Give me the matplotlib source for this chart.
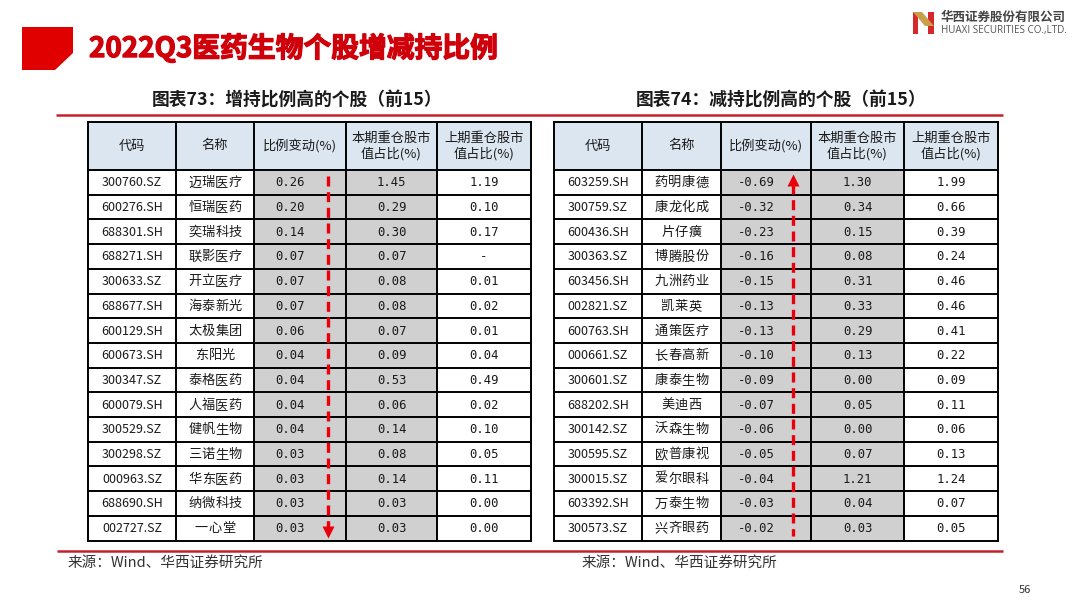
import matplotlib.pyplot as plt
import matplotlib.patheffects as pe
from matplotlib.patches import Polygon, Rectangle

plt.rcParams['font.family'] = ['Noto Sans CJK SC', 'DejaVu Sans']

# 增持比例高的个股（前15）
up_codes = ['300760.SZ', '600276.SH', '688301.SH', '688271.SH', '300633.SZ',
            '688677.SH', '600129.SH', '600673.SH', '300347.SZ', '600079.SH',
            '300529.SZ', '300298.SZ', '000963.SZ', '688690.SH', '002727.SZ']
up_names = ['迈瑞医疗', '恒瑞医药', '奕瑞科技', '联影医疗', '开立医疗',
            '海泰新光', '太极集团', '东阳光', '泰格医药', '人福医药',
            '健帆生物', '三诺生物', '华东医药', '纳微科技', '一心堂']
up_change = ['0.26', '0.20', '0.14', '0.07', '0.07', '0.07', '0.06', '0.04',
             '0.04', '0.04', '0.04', '0.03', '0.03', '0.03', '0.03']
up_now = ['1.45', '0.29', '0.30', '0.07', '0.08', '0.08', '0.07', '0.09',
          '0.53', '0.06', '0.14', '0.08', '0.14', '0.03', '0.03']
up_prev = ['1.19', '0.10', '0.17', '-', '0.01', '0.02', '0.01', '0.04',
           '0.49', '0.02', '0.10', '0.05', '0.11', '0.00', '0.00']

# 减持比例高的个股（前15）
down_codes = ['603259.SH', '300759.SZ', '600436.SH', '300363.SZ', '603456.SH',
              '002821.SZ', '600763.SH', '000661.SZ', '300601.SZ', '688202.SH',
              '300142.SZ', '300595.SZ', '300015.SZ', '603392.SH', '300573.SZ']
down_names = ['药明康德', '康龙化成', '片仔癀', '博腾股份', '九洲药业',
              '凯莱英', '通策医疗', '长春高新', '康泰生物', '美迪西',
              '沃森生物', '欧普康视', '爱尔眼科', '万泰生物', '兴齐眼药']
down_change = ['-0.69', '-0.32', '-0.23', '-0.16', '-0.15', '-0.13', '-0.13',
               '-0.10', '-0.09', '-0.07', '-0.06', '-0.05', '-0.04', '-0.03', '-0.02']
down_now = ['1.30', '0.34', '0.15', '0.08', '0.31', '0.33', '0.29', '0.13',
            '0.00', '0.05', '0.00', '0.07', '1.21', '0.04', '0.03']
down_prev = ['1.99', '0.66', '0.39', '0.24', '0.46', '0.46', '0.41', '0.22',
             '0.09', '0.11', '0.06', '0.13', '1.24', '0.07', '0.05']

headers = ['代码', '名称', '比例变动(%)', '本期重仓股市\n值占比(%)', '上期重仓股市\n值占比(%)']

HEAD_BG = '#dce6f1'
GRAY_BG = '#d0d0d0'
TXT = '#1a1a1a'

fig = plt.figure(figsize=(10.8, 6.05), dpi=100)
ax = fig.add_axes([0, 0, 1, 1])
ax.set_xlim(0, 1080)
ax.set_ylim(605, 0)
ax.axis('off')

# 页眉
ax.add_patch(Polygon([(22, 27), (73, 27), (73, 53), (55, 70), (22, 70)],
                     closed=True, color='#e00000', lw=0))
ax.text(89, 48, '2022Q3医药生物个股增减持比例', fontsize=20, fontweight='heavy',
        color='#d0000a', va='center', ha='left',
        path_effects=[pe.withStroke(linewidth=0.9, foreground='#d0000a')])

# 公司标志
ax.add_patch(Rectangle((913, 12), 5, 22, color='#d6282b', lw=0))
ax.add_patch(Rectangle((928, 12), 6, 22, color='#d6282b', lw=0))
ax.add_patch(Polygon([(913, 12), (922, 12), (934, 26), (925, 26)], closed=True,
                     color='#c9a04a', lw=0))
ax.text(941, 17, '华西证券股份有限公司', fontsize=9, fontweight='bold',
        color='#444444', va='center', ha='left')
ax.text(941, 30, 'HUAXI SECURITIES CO.,LTD.', fontsize=7.1, family='Open Sans',
        color='#555555', va='center', ha='left')

# 红色分隔线
ax.plot([56, 1003], [115, 115], color='#c8202a', lw=1.8, solid_capstyle='butt')
ax.plot([57, 1003], [551, 551], color='#c8202a', lw=1.8, solid_capstyle='butt')

ax.text(297, 101, '图表73：增持比例高的个股（前15）', fontsize=12.8, fontweight='bold',
        color=TXT, ha='center', va='center')
ax.text(781, 101, '图表74：减持比例高的个股（前15）', fontsize=12.8, fontweight='bold',
        color=TXT, ha='center', va='center')


def draw_table(xs, cols, arrow_up):
    top, head_h, row_h = 122, 48, 24.7
    nrows = len(cols[0])
    # 表头
    for j in range(5):
        ax.add_patch(Rectangle((xs[j], top), xs[j + 1] - xs[j], head_h,
                               facecolor=HEAD_BG, edgecolor='none'))
        ax.text((xs[j] + xs[j + 1]) / 2, top + head_h / 2, headers[j],
                fontsize=9.5, color=TXT, ha='center', va='center', linespacing=1.25)
    # 数据行
    for i in range(nrows):
        y0 = top + head_h + i * row_h
        cy = y0 + row_h / 2 + 0.5
        for j in range(5):
            fc = GRAY_BG if j in (2, 3) else 'white'
            ax.add_patch(Rectangle((xs[j], y0), xs[j + 1] - xs[j], row_h,
                                   facecolor=fc, edgecolor='none'))
            cx = (xs[j] + xs[j + 1]) / 2
            if j == 0:
                ax.text(cx, cy, cols[j][i], fontsize=9, color=TXT,
                        ha='center', va='center')
            elif j == 1:
                name = cols[j][i]
                n = len(name)
                for k, ch in enumerate(name):
                    ax.text(cx + (k - (n - 1) / 2) * 13.5, cy, ch, fontsize=9.5,
                            color=TXT, ha='center', va='center')
            else:
                if j == 2:
                    cx -= 10
                ax.text(cx, cy, cols[j][i], fontsize=8.8, family='DejaVu Sans Mono',
                        color=TXT, ha='center', va='center')
    bottom = top + head_h + nrows * row_h
    # 网格线
    for x in xs:
        ax.plot([x, x], [top, bottom], color='black', lw=1.4)
    ax.plot([xs[0], xs[-1]], [top, top], color='black', lw=1.4)
    for i in range(nrows + 1):
        y = top + head_h + i * row_h
        ax.plot([xs[0], xs[-1]], [y, y], color='black', lw=1.4)
    # 红色虚线箭头
    ax_x = xs[2] + (xs[3] - xs[2]) * 0.8
    y_a, y_b = top + head_h + 6, bottom - 5
    if arrow_up:
        ax.plot([ax_x, ax_x], [y_a + 8, y_b], color='#e8000b', lw=2.4,
                ls=(0, (3, 1.7)))
        ax.plot(ax_x, y_a + 4, marker='^', ms=8, color='#e8000b', mec='none')
    else:
        ax.plot([ax_x, ax_x], [y_a, y_b - 8], color='#e8000b', lw=2.4,
                ls=(0, (3, 1.7)))
        ax.plot(ax_x, y_b - 4, marker='v', ms=8, color='#e8000b', mec='none')


draw_table([88, 176, 254, 346, 437, 531],
           [up_codes, up_names, up_change, up_now, up_prev], arrow_up=False)
draw_table([554, 642, 721, 811, 904, 998],
           [down_codes, down_names, down_change, down_now, down_prev], arrow_up=True)

ax.text(68, 563, '来源：Wind、华西证券研究所', fontsize=10.5, style='italic',
        color='#333333', ha='left', va='center')
ax.text(582, 563, '来源：Wind、华西证券研究所', fontsize=10.5, style='italic',
        color='#333333', ha='left', va='center')
ax.text(1025, 590, '56', fontsize=8, color='#333333', ha='center', va='center')

fig.savefig('out.png', dpi=100)
